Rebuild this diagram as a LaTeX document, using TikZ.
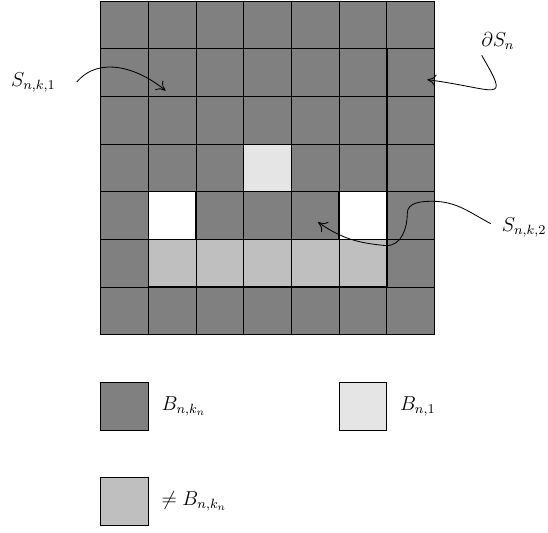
\documentclass[tikz,border=0pt]{standalone}
\usetikzlibrary{arrows.meta}
\begin{document}
\begin{tikzpicture}[
  cell/.style={draw=black, line width=0.5pt},
  bord/.style={draw=black, line width=0.9pt},
  lbl/.style={inner sep=2pt, font=\large},
  pointer/.style={-{To[length=1.8mm,width=2.6mm]}, line width=0.5pt}
]
\useasboundingbox (-2.11,-4.14) rectangle (9.38,7.02);
% grid of cells
\foreach \x in {0,...,6}{
  \foreach \y in {0,...,6}{
    \filldraw[cell, fill=black!50] (\x,\y) rectangle ++(1,1);
  }
}
% special cells
\filldraw[cell, fill=black!10] (3,3) rectangle ++(1,1);
\filldraw[cell, fill=white] (1,2) rectangle ++(1,1);
\filldraw[cell, fill=white] (5,2) rectangle ++(1,1);
\foreach \x in {1,...,5}{
  \filldraw[cell, fill=black!25] (\x,1) rectangle ++(1,1);
}
% thick borders
\draw[bord] (1,1) rectangle (6,6);
\draw[bord] (1,2) rectangle (6,3);
\draw[bord] (2,2) -- (2,3);
\draw[bord] (5,2) -- (5,3);

% labels
\node[lbl] (s1) at (-1.41,5.29) {$S_{n,k,1}$};
\node[lbl] (ds) at (8.33,6.17) {$\partial S_n$};
\node[lbl] (s2) at (8.88,2.25) {$S_{n,k,2}$};

\coordinate (s1start) at (-0.50,5.30);
\coordinate (s1tip) at (1.36,5.12);
\draw[pointer] (s1start) to[out=50,in=140] (s1tip);

\coordinate (dsstart) at (7.99,5.86);
\coordinate (dstip) at (6.85,5.35);
\draw[pointer] (dsstart) .. controls (8.59,4.82) and (8.35,5.15) .. (dstip);

\coordinate (s2start) at (8.18,2.33);
\coordinate (s2tip) at (4.56,2.36);
\draw[pointer] (s2start) to[out=152,in=0] (6.95,2.80)
  to[out=180,in=90] (6.43,2.55)
  to[out=-90,in=0] (5.99,1.87)
  to[out=175,in=-35] (s2tip);

% legend
\filldraw[cell, fill=black!50] (0,-1) rectangle (1,-2);
\node[lbl, anchor=west] (l1) at (1.2,-1.5) {$B_{n,k_n}$};
\filldraw[cell, fill=black!10] (5,-1) rectangle (6,-2);
\node[lbl, anchor=west] (l2) at (6.2,-1.5) {$B_{n,1}$};
\filldraw[cell, fill=black!25] (0,-3) rectangle (1,-4);
\node[lbl, anchor=west] (l3) at (1.2,-3.5) {$\neq B_{n,k_n}$};
\end{tikzpicture}
\end{document}
